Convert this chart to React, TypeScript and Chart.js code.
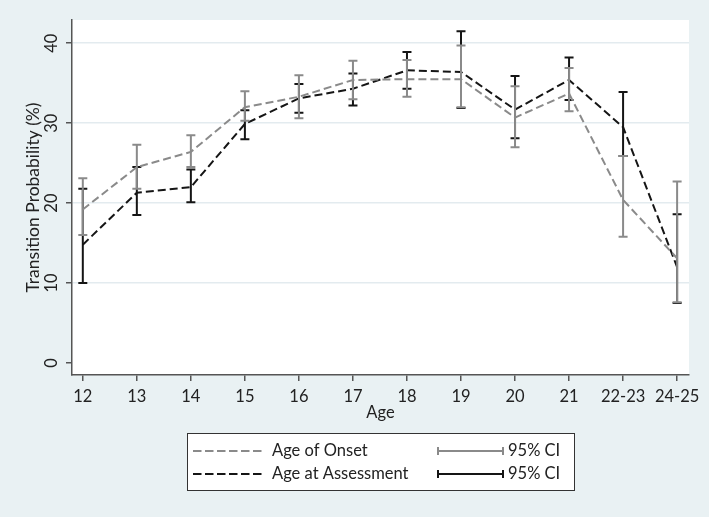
import React, { useEffect, useRef } from "react";
import { Chart, registerables } from "chart.js";

Chart.register(...registerables);

const categories = ["12", "13", "14", "15", "16", "17", "18", "19", "20", "21", "22-23", "24-25"];
const onsetValues = [19.2, 24.5, 26.4, 32.0, 33.3, 35.4, 35.5, 35.5, 30.7, 33.7, 20.4, 13.1];
const onsetLow = [16.0, 21.8, 24.5, 30.3, 30.6, 33.0, 33.3, 32.0, 27.0, 31.5, 15.8, 7.6];
const onsetHigh = [23.1, 27.3, 28.5, 34.0, 36.0, 37.8, 37.9, 39.7, 34.6, 36.9, 25.9, 22.7];
const assessValues = [14.8, 21.3, 22.0, 29.9, 33.1, 34.3, 36.6, 36.4, 31.7, 35.4, 29.5, 12.0];
const assessLow = [10.0, 18.5, 20.1, 28.0, 31.3, 32.2, 34.3, 31.9, 28.1, 32.9, 25.9, 7.5];
const assessHigh = [21.8, 24.5, 24.2, 31.6, 34.9, 36.2, 38.9, 41.5, 35.9, 38.2, 33.9, 18.6];
const yTicks = [0, 10, 20, 30, 40];
const seriesNames = ["Age of Onset", "Age at Assessment"];
const ciLabel = "95% CI";
const xTitle = "Age";
const yTitle = "Transition Probability (%)";

const GRAY = "#8a8a8a";
const BLACK = "#151515";
const FONT = "Lato, 'Open Sans', sans-serif";

export default function App() {
  const ref = useRef<HTMLCanvasElement | null>(null);

  useEffect(() => {
    document.body.style.margin = "0";
    document.body.style.background = "#e9f1f3";
    const canvas = ref.current!;
    const lows = [onsetLow, assessLow];
    const highs = [onsetHigh, assessHigh];
    const colors = [GRAY, BLACK];

    const bgPlugin = {
      id: "bg",
      beforeDraw(chart: any) {
        const { ctx, chartArea } = chart;
        ctx.save();
        ctx.fillStyle = "#e9f1f3";
        ctx.fillRect(0, 0, chart.width, chart.height);
        ctx.fillStyle = "#ffffff";
        ctx.fillRect(chartArea.left, chartArea.top, chartArea.right - chartArea.left, chartArea.bottom - chartArea.top);
        ctx.restore();
      },
    };

    const errPlugin = {
      id: "err",
      afterDatasetDraw(chart: any, args: any) {
        const i = args.index;
        const { ctx } = chart;
        const xs = chart.scales.x;
        const ys = chart.scales.y;
        ctx.save();
        ctx.strokeStyle = colors[i];
        ctx.lineWidth = 2;
        ctx.setLineDash([]);
        for (let k = 0; k < categories.length; k++) {
          const x = xs.getPixelForValue(k);
          const y1 = ys.getPixelForValue(lows[i][k]);
          const y2 = ys.getPixelForValue(highs[i][k]);
          ctx.beginPath();
          ctx.moveTo(x, y1);
          ctx.lineTo(x, y2);
          ctx.moveTo(x - 4.5, y1);
          ctx.lineTo(x + 4.5, y1);
          ctx.moveTo(x - 4.5, y2);
          ctx.lineTo(x + 4.5, y2);
          ctx.stroke();
        }
        ctx.restore();
      },
    };

    const textPlugin = {
      id: "txt",
      afterDraw(chart: any) {
        const { ctx, chartArea } = chart;
        const ys = chart.scales.y;
        ctx.save();
        ctx.fillStyle = "#222";
        ctx.font = `16.5px ${FONT}`;
        ctx.textAlign = "center";
        ctx.textBaseline = "middle";
        for (const v of yTicks) {
          const y = ys.getPixelForValue(v);
          ctx.save();
          ctx.translate(52, y);
          ctx.rotate(-Math.PI / 2);
          ctx.fillText(String(v), 0, 0);
          ctx.restore();
        }
        ctx.save();
        ctx.font = `17.5px ${FONT}`;
        ctx.translate(33, (chartArea.top + chartArea.bottom) / 2);
        ctx.rotate(-Math.PI / 2);
        ctx.fillText(yTitle, 0, 0);
        ctx.restore();
        ctx.fillText(xTitle, (chartArea.left + chartArea.right) / 2, 413);

        // legend
        const bx = 187, by = 433, bw = 387, bh = 57;
        ctx.fillStyle = "#ffffff";
        ctx.fillRect(bx, by, bw, bh);
        ctx.strokeStyle = "#333";
        ctx.lineWidth = 1;
        ctx.strokeRect(bx + 0.5, by + 0.5, bw, bh);
        const rows = [451, 474];
        for (let i = 0; i < 2; i++) {
          const y = rows[i];
          ctx.strokeStyle = colors[i];
          ctx.lineWidth = 2;
          ctx.setLineDash([8.5, 3.5]);
          ctx.beginPath();
          ctx.moveTo(193, y);
          ctx.lineTo(262, y);
          ctx.stroke();
          ctx.setLineDash([]);
          ctx.beginPath();
          ctx.moveTo(438, y);
          ctx.lineTo(503, y);
          ctx.moveTo(438, y - 4);
          ctx.lineTo(438, y + 4);
          ctx.moveTo(503, y - 4);
          ctx.lineTo(503, y + 4);
          ctx.stroke();
          ctx.fillStyle = "#222";
          ctx.textAlign = "left";
          ctx.fillText(seriesNames[i], 272, y);
          ctx.fillText(ciLabel, 508, y);
        }
        ctx.restore();
      },
    };

    const chart = new Chart(canvas, {
      type: "line",
      data: {
        labels: categories,
        datasets: [
          {
            label: seriesNames[0],
            data: onsetValues.map((v, k) => ({ x: k, y: v })),
            borderColor: GRAY,
            borderWidth: 2,
            borderDash: [8, 4],
            pointRadius: 0,
            fill: false,
          },
          {
            label: seriesNames[1],
            data: assessValues.map((v, k) => ({ x: k, y: v })),
            borderColor: BLACK,
            borderWidth: 2,
            borderDash: [8, 4],
            pointRadius: 0,
            fill: false,
          },
        ],
      },
      options: {
        animation: false,
        responsive: false,
        layout: { padding: { top: 20, right: 20, left: 0, bottom: 0 } },
        plugins: { legend: { display: false }, tooltip: { enabled: false } },
        scales: {
          x: {
            type: "linear",
            min: -0.2,
            max: 11.22,
            afterBuildTicks: (s: any) => {
              s.ticks = categories.map((_, k) => ({ value: k }));
            },
            afterFit: (s: any) => {
              s.height = 142;
            },
            ticks: {
              autoSkip: false,
              maxRotation: 0,
              padding: 6,
              color: "#222",
              font: { family: FONT, size: 16.5 },
              callback: (v: any) => categories[v as number] ?? "",
            },
            grid: { drawOnChartArea: false, tickLength: 6, tickColor: "#555", lineWidth: 1.5 },
            border: { color: "#555", width: 1.5 },
          },
          y: {
            min: -1.5,
            max: 42.9,
            afterBuildTicks: (s: any) => {
              s.ticks = yTicks.map((v) => ({ value: v }));
            },
            afterFit: (s: any) => {
              s.width = 72;
            },
            ticks: { display: false },
            grid: {
              color: (c: any) => (c.tick && c.tick.value === 0 ? "rgba(0,0,0,0)" : "#e3ebef"),
              tickColor: "#555",
              tickLength: 6,
              lineWidth: 1.5,
            },
            border: { color: "#555", width: 1.5 },
          },
        },
      },
      plugins: [bgPlugin, errPlugin, textPlugin],
    });
    return () => chart.destroy();
  }, []);

  return (
    <div style={{ width: 709, height: 517 }}>
      <canvas ref={ref} width={709} height={517} style={{ display: "block" }} />
    </div>
  );
}
